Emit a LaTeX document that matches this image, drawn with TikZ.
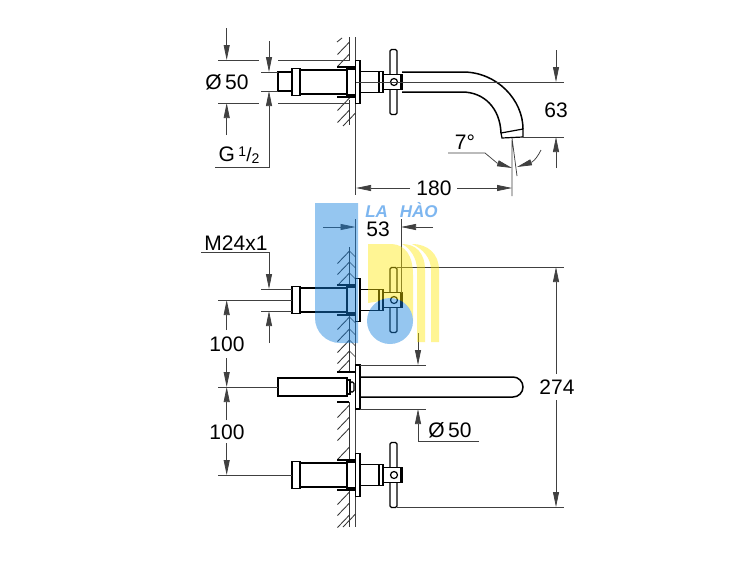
\documentclass[tikz,border=0pt]{standalone}
\usepackage{fontspec}
\setmainfont{Liberation Sans}
\usetikzlibrary{arrows.meta}
\definecolor{wmblue}{RGB}{22,129,222}
\definecolor{wmyellow}{RGB}{255,232,0}
\definecolor{wmtext}{RGB}{125,182,240}
\tikzset{
	partline/.style={draw=black,line width=1.2pt},
	heavyline/.style={draw=black,line width=1.5pt},
	wallline/.style={draw=black!80,line width=0.85pt},
	dimline/.style={draw=black!75,line width=0.75pt},
	dimtext/.style={font=\fontsize{21}{24}\selectfont,inner sep=0pt},
}
\begin{document}
\begin{tikzpicture}[x=1pt,y=1pt,yscale=-1,>={Triangle[length=15pt,width=6pt]}]
	\useasboundingbox (0,0) rectangle (750,560);
	\fill[white] (0,0) rectangle (750,560);
	% wall
	\draw[dimline] (355.5,37) -- (355.5,195);
	\draw[dimline,line width=1pt] (355.5,219) -- (355.5,527);
	\draw[wallline] (349.5,37) -- (349.5,60) (349.5,100) -- (349.5,125);
	\draw[wallline] (349.5,247) -- (349.5,285) (349.5,315) -- (349.5,372) (349.5,402) -- (349.5,459) (349.5,490) -- (349.5,527);
	\foreach \yh in {42,54,98,110,251,262,273,317,329,340,351,360,405,417,428,447,492,503,515}
		\draw[wallline] (337.5,\yh+12.5) -- (349.5,\yh);
	\draw[wallline] (343,126) -- (355.5,113) (337,42) -- (342,38) (343,527) -- (355.5,514);
	\foreach \yh in {251,262,273,317,329,340,351}
		\draw[wallline,line width=0.6pt] (349.5,\yh) -- (355.5,\yh+6);
	% the three valves
	\foreach \yc in {82,300,475}{
		\draw[partline,fill=white] (292,\yc-13.5) rectangle (300,\yc+13.5);
		\draw[heavyline] (300,\yc-12) -- (347,\yc-12) (300,\yc+12) -- (347,\yc+12);
		\draw[partline] (347,\yc-13) rectangle (355.5,\yc+13);
		\draw[partline] (355.5,\yc-21.5) rectangle (360,\yc+21.5);
		\draw[partline] (337,\yc-15) -- (355,\yc-15) (337,\yc+15) -- (355,\yc+15);
		\draw[heavyline] (360,\yc-10.5) -- (380,\yc-10.5) (360,\yc+10.5) -- (380,\yc+10.5);
		\draw[partline] (379,\yc-10.5) rectangle (383,\yc+10.5);
		\draw[partline,fill=white,rounded corners=1.5pt] (390,\yc-32.5) rectangle (397,\yc+32.5);
		\draw[partline,fill=white] (383,\yc-7.5) rectangle (402,\yc+7.5);
		\draw[heavyline] (400.5,\yc-7.5) -- (400.5,\yc+7.5);
		\draw[partline,fill=white] (394,\yc) circle[radius=3.5pt];
	}
	% inlet stub of the side view
	\draw[heavyline] (278,72) rectangle (292,91);
	% spout side view
	\draw[heavyline] (402,72) -- (463,72) .. controls (497,72) and (523,100) .. (523,129);
	\draw[heavyline] (402,92) -- (462,92) .. controls (484,92) and (500,108) .. (501,133);
	\draw[partline] (501,133) -- (523,129) -- (523,137) -- (502,138) -- cycle;
	% spout front view
	\draw[heavyline] (278,378) rectangle (347,396);
	\draw[partline] (347,380) rectangle (350,394);
	\draw[partline,rounded corners=1.5pt] (350,382) rectangle (354,392);
	\draw[partline] (337,372) -- (355,372) (337,402) -- (349,402);
	\draw[partline] (355.5,365) rectangle (360,409);
	\draw[heavyline] (360,377) -- (513,377) arc[start angle=-90,end angle=90,radius=10pt] -- (360,397);
	% dimensions top
	\draw[dimline] (218,60) -- (259,60) (278,60) -- (350,60);
	\draw[dimline] (218,103) -- (259,103) (278,103) -- (350,103);
	\draw[dimline] (261,72) -- (278,72) (261,91) -- (278,91);
	\draw[dimline,->] (226.7,28) -- (226.7,60);
	\draw[dimline,->] (226.7,135) -- (226.7,103);
	\draw[dimline,->] (269,41) -- (269,72);
	\draw[dimline,->] (215,167) -- (269,167) -- (269,91);
	\node at(227,82)[dimtext] (diaTop) {Ø\,50};
	\node at(239,155)[dimtext] (threadTop) {G\,\raisebox{5pt}{\fontsize{14}{14}\selectfont 1}\fontsize{19}{19}\selectfont/\raisebox{-2pt}{\fontsize{14}{14}\selectfont 2}};
	\draw[dimline] (356,82) -- (564,82) (523,137) -- (564,137);
	\draw[dimline,->] (556,50) -- (556,82);
	\draw[dimline,->] (556,168) -- (556,137);
	\node at(556,110)[dimtext] (riseTop) {63};
	\draw[dimline] (512,140) -- (512,196) (512,138) -- (517,176);
	\draw[dimline,->] (448,153) -- (485,153) -- (497,163) -- (512,168);
	\draw[dimline,->] (541,150) .. controls (538,156) and (535,160) .. (532,162) -- (517,167);
	\node at(465,142)[dimtext] (angleTop) {7°};
	\draw[dimline,->] (410,188) -- (356,188);
	\draw[dimline,->] (457,188) -- (512,188);
	\node at(434,188)[dimtext] (reachTop) {180};
	% dimensions front
	\draw[dimline,->] (323,227) -- (355.5,227);
	\draw[dimline,->] (433,227) -- (401,227);
	\draw[dimline] (401,219) -- (401,293);
	\node at(378,229)[dimtext] (offsetFront) {53};
	\node at(236,243)[dimtext] (threadFront) {M24x1};
	\draw[dimline,->] (201,252) -- (269,252) -- (269,289);
	\draw[dimline,->] (269,343) -- (269,311);
	\draw[dimline] (261,289) -- (292,289) (261,311) -- (292,311);
	\draw[dimline] (218,300) -- (292,300) (218,387) -- (278,387) (218,475) -- (292,475);
	\draw[dimline,->] (226.7,330) -- (226.7,300);
	\draw[dimline,->] (226.7,358) -- (226.7,387);
	\draw[dimline,->] (226.7,420) -- (226.7,387);
	\draw[dimline,->] (226.7,443) -- (226.7,475);
	\node at(227,344)[dimtext] (pitchUpper) {100};
	\node at(227,432)[dimtext] (pitchLower) {100};
	\draw[dimline] (397,267) -- (564,267) (397,507) -- (564,507);
	\draw[dimline,->] (556,374) -- (556,267);
	\draw[dimline,->] (556,400) -- (556,507);
	\node at(557,387)[dimtext] (heightFront) {274};
	\draw[dimline] (360,365) -- (426,365) (360,409) -- (426,409);
	\draw[dimline,->] (418,333) -- (418,365);
	\draw[dimline,->] (479,441) -- (418,441) -- (418,409);
	\node at(450,430)[dimtext] (diaFront) {Ø\,50};
	% watermark
	\fill[wmyellow,fill opacity=0.42] (368,303) -- (368,244) -- (392,244) .. controls (405,245) and (413,255) .. (413,275) -- (413,321) arc[start angle=360,end angle=238.5,radius=23pt] -- cycle;
	\fill[wmyellow,fill opacity=0.42] (402,244) .. controls (415,244) and (425,252) .. (425,270) -- (425,342) -- (417,342) -- (417,270) .. controls (417,258) and (410,248) .. (402,244) -- cycle;
	\fill[wmyellow,fill opacity=0.42] (412,244) .. controls (428,244) and (439,254) .. (439,270) -- (439,342) -- (431,342) -- (431,270) .. controls (431,258) and (423,249) .. (412,244) -- cycle;
	\fill[wmblue,fill opacity=0.45] (315,203) -- (358,203) -- (358,343) -- (340,343) arc[start angle=90,end angle=180,radius=25pt] -- cycle;
	\fill[wmblue,fill opacity=0.45] (390,321) circle[radius=23pt];
	\node at(401.5,210)[text=wmtext,font=\fontsize{17}{20}\selectfont\bfseries\itshape,inner sep=0pt] (markText) {LA\hspace{12pt}HÀO};
\end{tikzpicture}
\end{document}
